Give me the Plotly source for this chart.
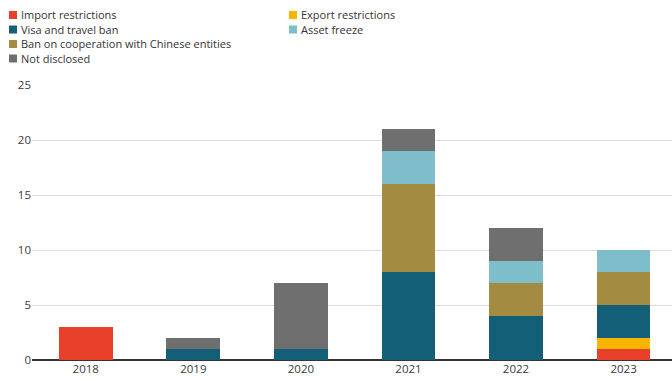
import plotly.graph_objects as go

years = ["2018", "2019", "2020", "2021", "2022", "2023"]
import_restrictions = [3, 0, 0, 0, 0, 1]
export_restrictions = [0, 0, 0, 0, 0, 1]
visa_travel_ban = [0, 1, 1, 8, 4, 3]
ban_cooperation = [0, 0, 0, 8, 3, 3]
asset_freeze = [0, 0, 0, 3, 2, 2]
not_disclosed = [0, 1, 6, 2, 3, 0]

series = [
    ("Import restrictions", import_restrictions, "#E8402B"),
    ("Export restrictions", export_restrictions, "#F7B500"),
    ("Visa and travel ban", visa_travel_ban, "#135F77"),
    ("Ban on cooperation with Chinese entities", ban_cooperation, "#A38B42"),
    ("Asset freeze", asset_freeze, "#7EBDCA"),
    ("Not disclosed", not_disclosed, "#6F6F6F"),
]

W, H = 672, 381
L, R, T, B = 32, 0, 85, 21
pw, ph = W - L - R, H - T - B

def px(x):
    return (x - L) / pw

def py(y):
    return (H - B - y) / ph

fig = go.Figure()
for name, vals, col in series:
    fig.add_trace(go.Bar(x=years, y=vals, name=name, marker_color=col,
                         marker_line_width=0, width=0.5, showlegend=False))

# manual legend (two columns)
legend_layout = [
    ("Import restrictions", "#E8402B", 9, 15),
    ("Visa and travel ban", "#135F77", 9, 29.5),
    ("Ban on cooperation with Chinese entities", "#A38B42", 9, 44),
    ("Not disclosed", "#6F6F6F", 9, 58.5),
    ("Export restrictions", "#F7B500", 289, 15),
    ("Asset freeze", "#7EBDCA", 289, 29.5),
]
shapes = []
annotations = []
for name, col, x0, yc in legend_layout:
    shapes.append(dict(type="rect", xref="paper", yref="paper",
                       x0=px(x0), x1=px(x0 + 8), y0=py(yc + 4), y1=py(yc - 4),
                       fillcolor=col, line_width=0))
    annotations.append(dict(text=name, xref="paper", yref="paper",
                            x=px(x0 + 11), y=py(yc), xanchor="left", yanchor="middle",
                            showarrow=False, borderpad=0,
                            font=dict(size=11, color="#333333")))

fig.update_layout(
    width=W, height=H,
    margin=dict(l=L, r=R, t=T, b=B),
    barmode="stack",
    plot_bgcolor="white", paper_bgcolor="white",
    font=dict(family="Open Sans", size=11.5, color="#444444"),
    xaxis=dict(type="category", range=[-0.5, 5.45], showgrid=False,
               ticks="", tickfont=dict(size=11.5, color="#3a3a3a"),
               showline=False, zeroline=False),
    yaxis=dict(range=[0, 25], tickvals=[0, 5, 10, 15, 20, 25],
               showgrid=True, gridcolor="#dddddd", gridwidth=1,
               zeroline=True, zerolinecolor="#333333", zerolinewidth=1.5,
               ticks="", tickfont=dict(size=11.5, color="#3a3a3a"),
               showline=False),
    shapes=shapes,
    annotations=annotations,
    bargap=0.5,
)

fig.write_html("out.html", config={"displayModeBar": False},
               post_script="document.body.style.margin='0';document.body.style.padding='0';document.body.style.overflow='hidden';")
